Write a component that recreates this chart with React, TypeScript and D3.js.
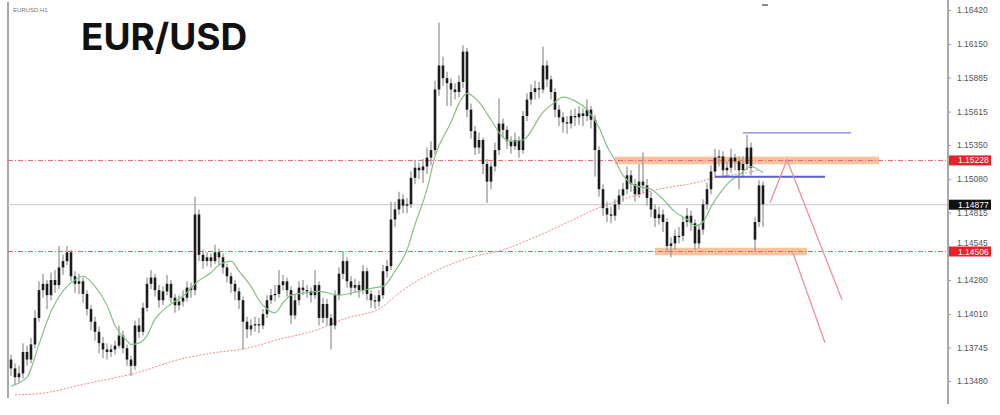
import React, { useEffect, useRef } from 'react';
import * as d3 from 'd3';

// EURUSD H1 candles (open = previous close unless gapped)
const closes = [
  1.1358, 1.1351, 1.1354, 1.1371, 1.1365, 1.1377, 1.1398, 1.1420, 1.1425, 1.1416,
  1.1428, 1.1424, 1.1438, 1.1443, 1.1450, 1.1431, 1.1425, 1.1427, 1.1417, 1.1405,
  1.1395, 1.1387, 1.1378, 1.1373, 1.1371, 1.1373, 1.1376, 1.1384, 1.1374, 1.1365,
  1.1360, 1.1392, 1.1387, 1.1406, 1.1425, 1.1430, 1.1420, 1.1412, 1.1419, 1.1425,
  1.1414, 1.1408, 1.1411, 1.1414, 1.1422, 1.1420, 1.1480, 1.1448, 1.1443, 1.1446,
  1.1443, 1.1450, 1.1446, 1.1438, 1.1431, 1.1425, 1.1419, 1.1412, 1.1395, 1.1389,
  1.1392, 1.1393, 1.1392, 1.1401, 1.1412, 1.1416, 1.1417, 1.1424, 1.1427, 1.1420,
  1.1400, 1.1412, 1.1422, 1.1420, 1.1419, 1.1416, 1.1424, 1.1398, 1.1409, 1.1398,
  1.1392, 1.1416, 1.1433, 1.1443, 1.1427, 1.1422, 1.1424, 1.1420, 1.1435, 1.1417,
  1.1412, 1.1411, 1.1416, 1.1435, 1.1439, 1.1476, 1.1484, 1.1492, 1.1487, 1.1488,
  1.1509, 1.1517, 1.1515, 1.1518, 1.1525, 1.1531, 1.1579, 1.1598, 1.1588, 1.1584,
  1.1579, 1.1577, 1.1585, 1.1609, 1.1563, 1.1546, 1.1533, 1.1539, 1.1520, 1.1506,
  1.1518, 1.1531, 1.1552, 1.1547, 1.1538, 1.1534, 1.1539, 1.1531, 1.1558, 1.1571,
  1.1577, 1.1580, 1.1579, 1.1598, 1.1587, 1.1577, 1.1563, 1.1557, 1.1553, 1.1552,
  1.1558, 1.1557, 1.1560, 1.1558, 1.1563, 1.1555, 1.1531, 1.1500, 1.1485, 1.1480,
  1.1479, 1.1488, 1.1495, 1.1500, 1.1511, 1.1504, 1.1496, 1.1506, 1.1503, 1.1493,
  1.1484, 1.1477, 1.1480, 1.1474, 1.1455, 1.1457, 1.1463, 1.1463, 1.1474, 1.1479,
  1.1473, 1.1457, 1.1468, 1.1488, 1.1500, 1.1514, 1.1525, 1.1526, 1.1515, 1.1517,
  1.1525, 1.1522, 1.1515, 1.1520, 1.1533, 1.1517, 1.1474, 1.1503, 1.1488,
];

const highs = [
  1.1369, 1.1362, 1.1360, 1.1378, 1.1376, 1.1382, 1.1404, 1.1427, 1.1433, 1.1428,
  1.1434, 1.1436, 1.1455, 1.1448, 1.1455, 1.1452, 1.1435, 1.1433, 1.1430, 1.1420,
  1.1408, 1.1399, 1.1391, 1.1383, 1.1378, 1.1377, 1.1380, 1.1392, 1.1388, 1.1377,
  1.1368, 1.1396, 1.1398, 1.1410, 1.1430, 1.1436, 1.1433, 1.1424, 1.1423, 1.1432,
  1.1428, 1.1417, 1.1416, 1.1420, 1.1427, 1.1426, 1.1494, 1.1484, 1.1452, 1.1450,
  1.1449, 1.1456, 1.1453, 1.1449, 1.1441, 1.1434, 1.1428, 1.1422, 1.1415, 1.1399,
  1.1397, 1.1399, 1.1398, 1.1405, 1.1416, 1.1421, 1.1424, 1.1436, 1.1432, 1.1430,
  1.1423, 1.1417, 1.1427, 1.1428, 1.1424, 1.1422, 1.1436, 1.1427, 1.1414, 1.1413,
  1.1401, 1.1420, 1.1438, 1.1451, 1.1446, 1.1431, 1.1429, 1.1427, 1.1440, 1.1438,
  1.1420, 1.1416, 1.1420, 1.1440, 1.1444, 1.1490, 1.1490, 1.1498, 1.1496, 1.1493,
  1.1514, 1.1523, 1.1521, 1.1524, 1.1533, 1.1538, 1.1586, 1.1632, 1.1605, 1.1593,
  1.1588, 1.1584, 1.1590, 1.1614, 1.1612, 1.1568, 1.1550, 1.1545, 1.1541, 1.1524,
  1.1522, 1.1537, 1.1572, 1.1556, 1.1550, 1.1542, 1.1545, 1.1542, 1.1562, 1.1576,
  1.1583, 1.1586, 1.1585, 1.1613, 1.1602, 1.1590, 1.1580, 1.1567, 1.1561, 1.1558,
  1.1563, 1.1564, 1.1566, 1.1564, 1.1571, 1.1566, 1.1559, 1.1534, 1.1504, 1.1490,
  1.1486, 1.1492, 1.1500, 1.1505, 1.1518, 1.1515, 1.1508, 1.1520, 1.1529, 1.1508,
  1.1498, 1.1488, 1.1486, 1.1484, 1.1477, 1.1462, 1.1468, 1.1470, 1.1478, 1.1485,
  1.1483, 1.1476, 1.1472, 1.1492, 1.1505, 1.1519, 1.1532, 1.1531, 1.1530, 1.1522,
  1.1532, 1.1528, 1.1526, 1.1526, 1.1543, 1.1537, 1.1478, 1.1507, 1.1506,
];

const lows = [
  1.1352, 1.1345, 1.1347, 1.1350, 1.1360, 1.1362, 1.1374, 1.1395, 1.1414, 1.1405,
  1.1412, 1.1418, 1.1421, 1.1432, 1.1440, 1.1427, 1.1418, 1.1417, 1.1410, 1.1400,
  1.1388, 1.1380, 1.1370, 1.1366, 1.1365, 1.1367, 1.1369, 1.1374, 1.1370, 1.1360,
  1.1352, 1.1357, 1.1382, 1.1384, 1.1403, 1.1421, 1.1415, 1.1406, 1.1408, 1.1416,
  1.1410, 1.1402, 1.1404, 1.1407, 1.1411, 1.1414, 1.1416, 1.1443, 1.1437, 1.1439,
  1.1438, 1.1441, 1.1440, 1.1433, 1.1426, 1.1418, 1.1412, 1.1405, 1.1373, 1.1382,
  1.1384, 1.1387, 1.1386, 1.1389, 1.1398, 1.1409, 1.1411, 1.1414, 1.1420, 1.1415,
  1.1393, 1.1397, 1.1408, 1.1416, 1.1414, 1.1410, 1.1413, 1.1392, 1.1394, 1.1392,
  1.1373, 1.1389, 1.1412, 1.1429, 1.1422, 1.1416, 1.1418, 1.1414, 1.1417, 1.1412,
  1.1406, 1.1405, 1.1407, 1.1413, 1.1430, 1.1436, 1.1470, 1.1480, 1.1481, 1.1481,
  1.1485, 1.1504, 1.1508, 1.1505, 1.1512, 1.1519, 1.1527, 1.1574, 1.1582, 1.1566,
  1.1566, 1.1571, 1.1573, 1.1580, 1.1557, 1.1540, 1.1527, 1.1528, 1.1512, 1.1489,
  1.1500, 1.1514, 1.1527, 1.1541, 1.1532, 1.1528, 1.1531, 1.1525, 1.1528, 1.1554,
  1.1567, 1.1571, 1.1572, 1.1576, 1.1581, 1.1571, 1.1557, 1.1550, 1.1545, 1.1544,
  1.1548, 1.1550, 1.1551, 1.1550, 1.1554, 1.1548, 1.1510, 1.1494, 1.1479, 1.1474,
  1.1473, 1.1475, 1.1484, 1.1490, 1.1496, 1.1498, 1.1490, 1.1493, 1.1497, 1.1487,
  1.1478, 1.1470, 1.1472, 1.1466, 1.1450, 1.1446, 1.1452, 1.1457, 1.1459, 1.1470,
  1.1467, 1.1452, 1.1453, 1.1464, 1.1484, 1.1496, 1.1510, 1.1518, 1.1509, 1.1510,
  1.1513, 1.1515, 1.1500, 1.1509, 1.1515, 1.1511, 1.1451, 1.1470, 1.1470,
];

const firstOpen = 1.1365;
const gapIndex = [186];
const gapOpen = [1.146];

// moving averages (bar index -> value)
const fastMaIdx = [0, 4, 7, 10, 14, 16, 18, 21, 24, 26, 29, 30, 32, 34, 36, 37, 40, 44, 46, 50, 52, 55, 57, 60, 62, 64, 66, 68, 70, 74, 77, 82, 87, 91, 93, 96, 99, 101, 104, 106, 110, 112, 114, 117, 120, 123, 125, 128, 133, 136, 138, 141, 144, 147, 149, 151, 153, 156, 160, 163, 166, 169, 171, 173, 175, 178, 180, 182, 185, 188];
const fastMaVal = [1.1344, 1.1351, 1.1377, 1.1403, 1.1423, 1.1428, 1.1431, 1.1423, 1.1408, 1.1392, 1.1380, 1.1377, 1.1378, 1.1384, 1.1397, 1.1401, 1.1409, 1.1418, 1.1425, 1.1434, 1.1440, 1.1443, 1.1435, 1.1423, 1.1412, 1.1405, 1.1402, 1.1410, 1.1416, 1.1418, 1.1419, 1.1416, 1.1419, 1.1422, 1.1423, 1.1435, 1.1452, 1.1472, 1.1500, 1.1526, 1.1553, 1.1568, 1.1576, 1.1569, 1.1555, 1.1541, 1.1538, 1.1539, 1.1561, 1.1569, 1.1573, 1.1570, 1.1563, 1.1549, 1.1534, 1.1523, 1.1511, 1.1503, 1.1500, 1.1492, 1.1482, 1.1476, 1.1471, 1.1474, 1.1486, 1.1500, 1.1507, 1.1511, 1.1518, 1.1513];

const slowMaIdx = [1, 7, 19, 32, 42, 50, 59, 67, 76, 84, 92, 98, 106, 115, 123, 131, 140, 146, 154, 162, 171, 177, 182, 187];
const slowMaVal = [1.1337, 1.1338, 1.1346, 1.1355, 1.1365, 1.1370, 1.1374, 1.1381, 1.1388, 1.1398, 1.1405, 1.142, 1.1435, 1.1446, 1.1452, 1.1462, 1.1475, 1.1484, 1.1493, 1.15, 1.1505, 1.151, 1.1512, 1.1515];

const tickValues = [1.1642, 1.1615, 1.15885, 1.15615, 1.1535, 1.1508, 1.14815, 1.14545, 1.1428, 1.1401, 1.13745, 1.1348];

const levelPrices = [1.15228, 1.14506];
const bidPrice = 1.14877;

// supply / demand zones
const zoneFrom = [151, 161];
const zoneTo = [217, 199];
const zonePrice = [1.15228, 1.14506];

// blue horizontal marks
const blueFrom = [183, 176];
const blueTo = [210, 203.5];
const bluePrice = [1.15447, 1.15098];

// projected paths
const pathA_idx = [189.75, 194, 207.75];
const pathA_val = [1.14892, 1.15233, 1.14124];
const pathB_idx = [195.5, 203.5];
const pathB_val = [1.14496, 1.13783];

const App: React.FC = () => {
  const svgRef = useRef<SVGSVGElement>(null);

  useEffect(() => {
    if (!svgRef.current) return;
    const svg = d3.select(svgRef.current);
    svg.selectAll('*').remove();

    const left = 8;
    const right = 948;
    const bottom = 398;

    const x = d3.scaleLinear().domain([0, closes.length - 1]).range([11, 763]);
    const y = d3.scaleLinear().domain([1.1642, 1.1348]).range([10, 381]);

    svg.append('rect').attr('width', 1000).attr('height', 415).attr('fill', '#fff');

    const g = svg.append('g');

    // frame
    g.append('line').attr('x1', left).attr('x2', left).attr('y1', 2).attr('y2', bottom)
      .attr('stroke', '#a8a8a8').attr('stroke-width', 2);

    // bid line
    g.append('line').attr('x1', left).attr('x2', right)
      .attr('y1', y(bidPrice)).attr('y2', y(bidPrice))
      .attr('stroke', '#d4d4d4').attr('stroke-width', 1.2);

    // zones
    zonePrice.forEach((p, i) => {
      g.append('rect')
        .attr('x', x(zoneFrom[i])).attr('width', x(zoneTo[i]) - x(zoneFrom[i]))
        .attr('y', y(p + 0.0003)).attr('height', y(p - 0.0003) - y(p + 0.0003))
        .attr('fill', '#f7b98c').attr('opacity', 0.85);
    });

    // red level lines
    levelPrices.forEach(p => {
      g.append('line').attr('x1', left).attr('x2', right)
        .attr('y1', y(p)).attr('y2', y(p))
        .attr('stroke', '#e8606a').attr('stroke-width', 1)
        .attr('stroke-dasharray', '5,2,1,2');
    });

    // slow MA (dotted red)
    const line = d3.line<[number, number]>().x(d => x(d[0])).y(d => y(d[1])).curve(d3.curveMonotoneX);
    g.append('path')
      .datum(slowMaIdx.map((d, i) => [d, slowMaVal[i]] as [number, number]))
      .attr('d', line).attr('fill', 'none')
      .attr('stroke', '#f08a8a').attr('stroke-width', 1).attr('stroke-dasharray', '2,1.5');

    // candles
    const bars = closes.map((c, i) => {
      const gi = gapIndex.indexOf(i);
      const o = gi >= 0 ? gapOpen[gi] : i === 0 ? firstOpen : closes[i - 1];
      return { i, o, c, h: Math.max(highs[i], o, c), l: Math.min(lows[i], o, c) };
    });
    g.append('g').selectAll('line').data(bars).enter().append('line')
      .attr('x1', d => x(d.i)).attr('x2', d => x(d.i))
      .attr('y1', d => y(d.h)).attr('y2', d => y(d.l))
      .attr('stroke', '#999').attr('stroke-width', 1.3);
    g.append('g').selectAll('rect').data(bars).enter().append('rect')
      .attr('x', d => x(d.i) - 1.3).attr('width', 2.6)
      .attr('y', d => y(Math.max(d.o, d.c)))
      .attr('height', d => Math.max(1.2, Math.abs(y(d.o) - y(d.c))))
      .attr('fill', '#1c1c1c');

    // fast MA (green)
    g.append('path')
      .datum(fastMaIdx.map((d, i) => [d, fastMaVal[i]] as [number, number]))
      .attr('d', line).attr('fill', 'none')
      .attr('stroke', '#86c08a').attr('stroke-width', 1.2);

    // blue marks
    bluePrice.forEach((p, i) => {
      g.append('line').attr('x1', x(blueFrom[i])).attr('x2', x(blueTo[i]))
        .attr('y1', y(p)).attr('y2', y(p))
        .attr('stroke', i === 0 ? '#8080e0' : '#5b5bd6').attr('stroke-width', i === 0 ? 1.2 : 2);
    });

    // projections
    const pline = d3.line<[number, number]>().x(d => x(d[0])).y(d => y(d[1]));
    [[pathA_idx, pathA_val], [pathB_idx, pathB_val]].forEach(([ix, vv]) => {
      g.append('path')
        .datum(ix.map((d, i) => [d, vv[i]] as [number, number]))
        .attr('d', pline).attr('fill', 'none')
        .attr('stroke', '#f28d9c').attr('stroke-width', 1.3);
    });

    // price axis
    const axis = svg.append('g').attr('transform', `translate(${right},0)`)
      .call(d3.axisRight(y).tickValues(tickValues).tickFormat(d3.format('.5f')).tickSize(3).tickPadding(6));
    axis.select('.domain').remove();
    axis.selectAll('line').attr('stroke', '#999');
    axis.selectAll('text').attr('fill', '#555').style('font-family', 'Liberation Sans, Arial, sans-serif').style('font-size', '8.5px');
    // the tag below partly hides this label, as in the terminal
    axis.selectAll('text').filter(d => d === 1.14545).attr('dy', '-0.1em');
    svg.append('line').attr('x1', right).attr('x2', right).attr('y1', 0).attr('y2', 404)
      .attr('stroke', '#a8a8a8').attr('stroke-width', 2);

    // price tags
    const tags = [
      { p: levelPrices[0], fill: '#e8202a' },
      { p: bidPrice, fill: '#111' },
      { p: levelPrices[1], fill: '#e8202a' },
    ];
    tags.forEach(t => {
      svg.append('rect').attr('x', right + 1).attr('y', y(t.p) - 5).attr('width', 42).attr('height', 10)
        .attr('fill', t.fill);
      svg.append('text').attr('x', right + 10).attr('y', y(t.p) + 3)
        .attr('fill', '#fff').style('font-family', 'Liberation Sans, Arial, sans-serif')
        .style('font-size', '8.5px').text(d3.format('.5f')(t.p));
    });

    // shift marker
    svg.append('line').attr('x1', 762).attr('x2', 768).attr('y1', 5).attr('y2', 5)
      .attr('stroke', '#666').attr('stroke-width', 1.5);

    svg.append('text').attr('x', 13).attr('y', 12)
      .attr('fill', '#777').style('font-family', 'Liberation Sans, Arial, sans-serif')
      .style('font-size', '6px').text('EURUSD,H1');

    svg.append('text').attr('x', 81).attr('y', 50)
      .attr('fill', '#111').style('font-family', 'Inter, sans-serif')
      .style('font-size', '37px').style('font-weight', 700).text('EUR/USD');
  }, []);

  return (
    <svg ref={svgRef} width={1000} height={415}
      style={{ position: 'absolute', left: 0, top: 0, display: 'block' }} />
  );
};

export default App;
